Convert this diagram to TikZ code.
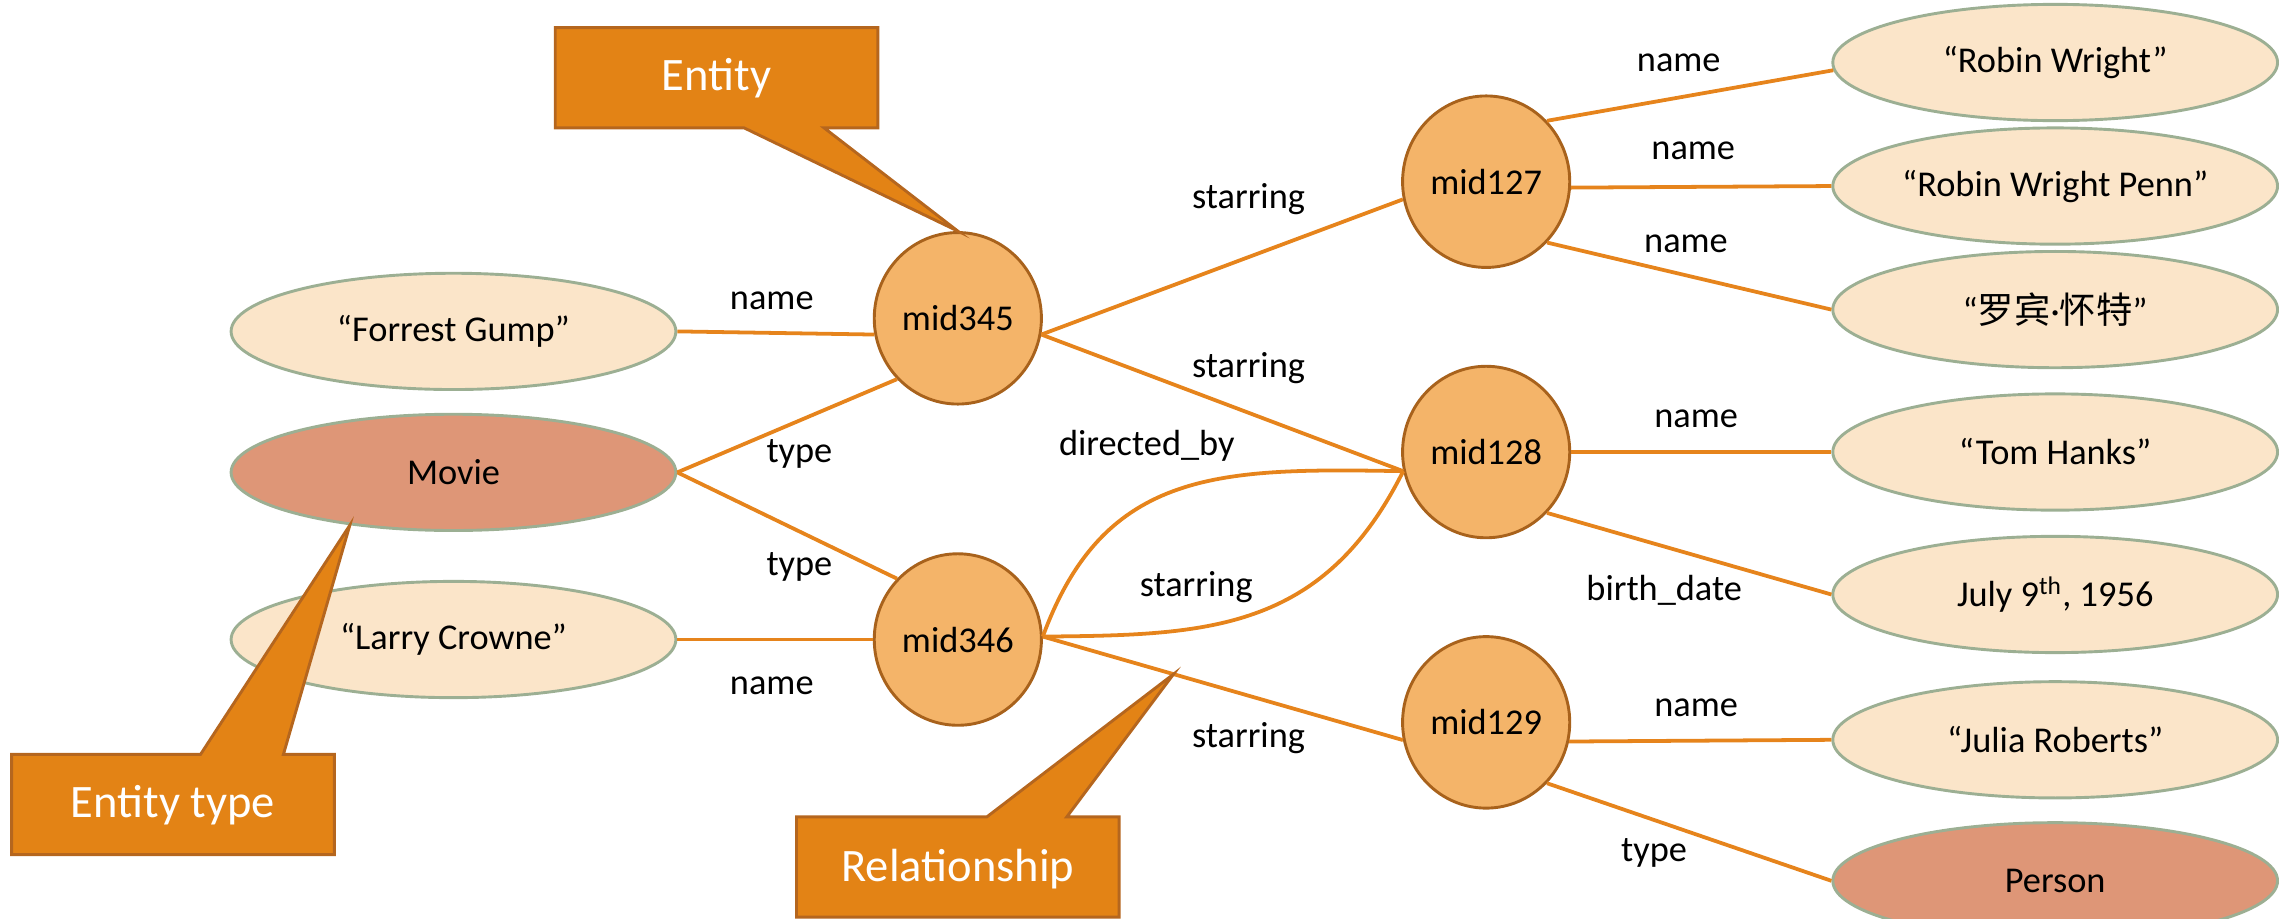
\documentclass[tikz,border=0pt]{standalone}
\usepackage{fontspec}
\setmainfont{Carlito}
\newfontfamily\cjk{Noto Sans CJK SC}
\usetikzlibrary{shapes.geometric}
\definecolor{entfill}{HTML}{F4B469}
\definecolor{entline}{HTML}{A8621C}
\definecolor{litfill}{HTML}{FBE5C9}
\definecolor{litline}{HTML}{9CAF93}
\definecolor{typefill}{HTML}{DE9677}
\definecolor{edgecol}{HTML}{E6841C}
\definecolor{callfill}{HTML}{E38315}
\definecolor{callline}{HTML}{B5661E}
\begin{document}
\begin{tikzpicture}[x=0.5pt,y=-0.5pt,
  txt/.style={font=\fontsize{12.5}{14}\selectfont},
  ent/.style={ellipse, draw=entline, fill=entfill, line width=1pt, minimum width=57.5pt, minimum height=59pt, inner sep=0pt, txt},
  lit/.style={ellipse, draw=litline, fill=litfill, line width=1pt, minimum width=153pt, minimum height=40pt, inner sep=0pt, txt},
  typ/.style={lit, fill=typefill},
  rel/.style={draw=edgecol, line width=1.3pt},
  lbl/.style={inner sep=0pt, txt},
  callout/.style={draw=callline, fill=callfill, line width=1pt, line join=miter},
  calltext/.style={text=white, inner sep=0pt, font=\fontsize{16}{19}\selectfont}
]
\useasboundingbox (0,0) rectangle (1568,632);

% entity nodes
\node[ent] (mid345) at (659,219) {mid345};
\node[ent] (mid346) at (659,440) {mid346};
\node[ent] (mid127) at (1022.5,125) {mid127};
\node[ent] (mid128) at (1022.5,311) {mid128};
\node[ent] (mid129) at (1022.5,497) {mid129};

% literal / type nodes
\node[lit] (fg) at (312,228) {“Forrest Gump”};
\node[typ] (movie) at (312,325) {Movie};
\node[lit] (lc) at (312,440) {“Larry Crowne”};
\node[lit] (rw) at (1414,43) {“Robin Wright”};
\node[lit] (rwp) at (1414,128) {“Robin Wright Penn”};
\node[lit] (cn) at (1414,213) {“{\cjk 罗宾}·{\cjk 怀特}”};
\node[lit] (th) at (1414,311) {“Tom Hanks”};
\node[lit] (july) at (1414,409) {July 9\textsuperscript{th}, 1956};
\node[lit] (jr) at (1414,509) {“Julia Roberts”};
\node[typ] (person) at (1414,606) {Person};

% edges
\draw[rel] (fg.east) -- (mid345.191);
\draw[rel] (movie.east) -- (mid345.-135);
\draw[rel] (movie.east) -- (mid346.135);
\draw[rel] (lc.east) -- (mid346.west);
\draw[rel] (mid345.-11) -- (mid127.192);
\draw[rel] (mid345.-11) -- (mid128.193);
\draw[rel] (mid346.2) .. controls (760,322) and (840,322) .. (mid128.193);
\draw[rel] (mid346.2) .. controls (830,437) and (910,435) .. (mid128.193);
\draw[rel] (mid346.2) -- coordinate[pos=0.363] (reltip) (mid129.192);
\draw[rel] (mid127.45) -- (rw.182);
\draw[rel] (mid127.-4) -- (rwp.west);
\draw[rel] (mid127.-45) -- (cn.west);
\draw[rel] (mid128.east) -- (th.west);
\draw[rel] (mid128.-45) -- (july.west);
\draw[rel] (mid129.-13) -- (jr.west);
\draw[rel] (mid129.-45) -- (person.west);

% edge labels
\node[lbl] (l1) at (531,207) {name};
\node[lbl] (l2) at (550,312) {type};
\node[lbl] (l3) at (550,390) {type};
\node[lbl] (l4) at (531,472) {name};
\node[lbl] (l5) at (859,137) {starring};
\node[lbl] (l6) at (859,253) {starring};
\node[lbl] (l7) at (789,307) {directed\_by};
\node[lbl] (l8) at (823,404) {starring};
\node[lbl] (l9) at (859,508) {starring};
\node[lbl] (l10) at (1155,43) {name};
\node[lbl] (l11) at (1165,104) {name};
\node[lbl] (l12) at (1160,168) {name};
\node[lbl] (l13) at (1167,288) {name};
\node[lbl] (l14) at (1145,406) {birth\_date};
\node[lbl] (l15) at (1167,487) {name};
\node[lbl] (l16) at (1138,587) {type};

% callouts
\path[callout] (382,19) -- (604,19) -- (604,88) -- (567,88) -- (mid345.north) -- (512,88) -- (382,88) -- cycle;
\node[calltext] (c1) at (493,54) {Entity};
\path[callout] (8,519) -- (138,519) -- (movie.207.5) -- (195,519) -- (230,519) -- (230,588) -- (8,588) -- cycle;
\node[calltext] (c2) at (119,554) {Entity type};
\path[callout] (548,562) -- (679,562) -- (reltip) -- (734,562) -- (770,562) -- (770,631) -- (548,631) -- cycle;
\node[calltext] (c3) at (659,598) {Relationship};
\end{tikzpicture}
\end{document}
